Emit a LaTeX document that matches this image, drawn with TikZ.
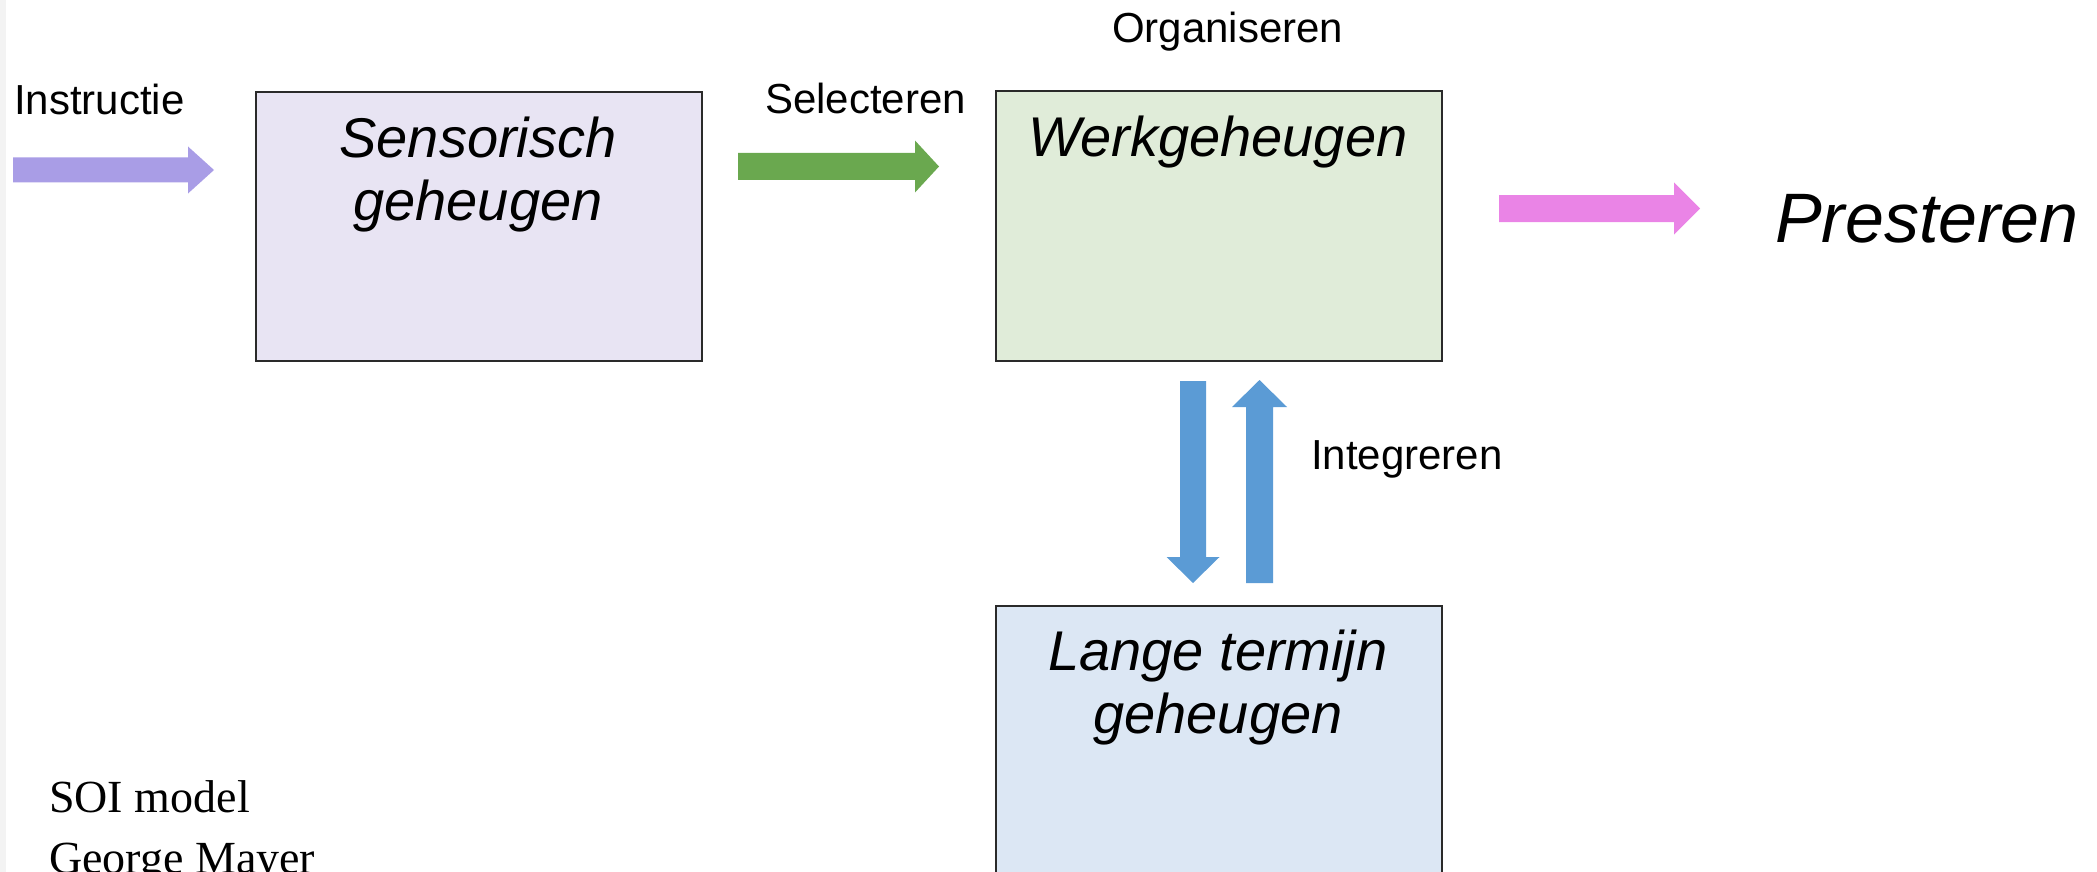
\documentclass[tikz,border=0pt]{standalone}
\usepackage{fontspec}
\setmainfont{Liberation Sans}
\newfontfamily\serifont{Liberation Serif}
\definecolor{purp}{HTML}{A99DE6}
\definecolor{grn}{HTML}{6AA84F}
\definecolor{pnk}{HTML}{EA84E6}
\definecolor{blu}{HTML}{5B9BD5}
\definecolor{sensfill}{HTML}{E8E4F3}
\definecolor{werkfill}{HTML}{E0ECD9}
\definecolor{langfill}{HTML}{DCE7F4}
\definecolor{edgecol}{HTML}{F3F3F3}
\definecolor{bord}{HTML}{2A2A2A}
\begin{document}
\begin{tikzpicture}[x=1pt,y=-1pt,
  memory/.style={draw=bord, line width=2.2pt, minimum width=446pt, anchor=north west, inner sep=0pt},
  lbl/.style={font=\fontsize{42}{50}\selectfont, inner sep=0pt, anchor=base west},
  boxtxt/.style={font=\fontsize{56}{63}\selectfont\itshape, inner sep=0pt, align=center, anchor=base},
  credit/.style={font=\serifont\fontsize{46}{63}\selectfont, inner sep=0pt, anchor=base west}]
\useasboundingbox (0,0) rectangle (2097,872);
\clip (0,0) rectangle (2097,872);
\fill[edgecol] (0,0) rectangle (6,872);

% boxes
\node[memory, fill=sensfill, minimum height=269pt] (sens) at (255,91) {};
\node[memory, fill=werkfill, minimum height=270pt] (werk) at (995,90) {};
\node[memory, fill=langfill, minimum height=300pt] (lang) at (995,605) {};

% box texts (anchor = baseline of the last line)
\node[boxtxt] (senst) at (478,220) {Sensorisch\\geheugen};
\node[boxtxt] (werkt) at (1218,157) {Werkgeheugen};
\node[boxtxt] (langt) at (1218,733) {Lange termijn\\geheugen};

% labels
\node[lbl] (instr) at (14,115) {Instructie};
\node[lbl] (selec) at (765,114) {Selecteren};
\node[lbl] (organ) at (1112,43) {Organiseren};
\node[lbl] (integ) at (1311,469) {Integreren};
\node[font=\fontsize{70}{80}\selectfont\itshape, inner sep=0pt, anchor=base west] (prest) at (1775,242) {Presteren};

% credits
\node[credit] (soi) at (49,812) {SOI model};
\node[credit] (mayer) at (49,873) {George Mayer};

% block arrows
\fill[purp] (13,157.5) -- (188,157.5) -- (188,146.5) -- (214,170) -- (188,193.5) -- (188,182.5) -- (13,182.5) -- cycle;
\fill[grn] (738,153) -- (915,153) -- (915,140.5) -- (939,166.5) -- (915,192.5) -- (915,180) -- (738,180) -- cycle;
\fill[pnk] (1499,195) -- (1674,195) -- (1674,182.5) -- (1700,208.5) -- (1674,234.5) -- (1674,222) -- (1499,222) -- cycle;
\fill[blu] (1180,381) -- (1206,381) -- (1206,557) -- (1219.5,557) -- (1193,583) -- (1166.5,557) -- (1180,557) -- cycle;
\fill[blu] (1246,583) -- (1273,583) -- (1273,407) -- (1287,407) -- (1259.5,380) -- (1232,407) -- (1246,407) -- cycle;
\end{tikzpicture}
\end{document}
